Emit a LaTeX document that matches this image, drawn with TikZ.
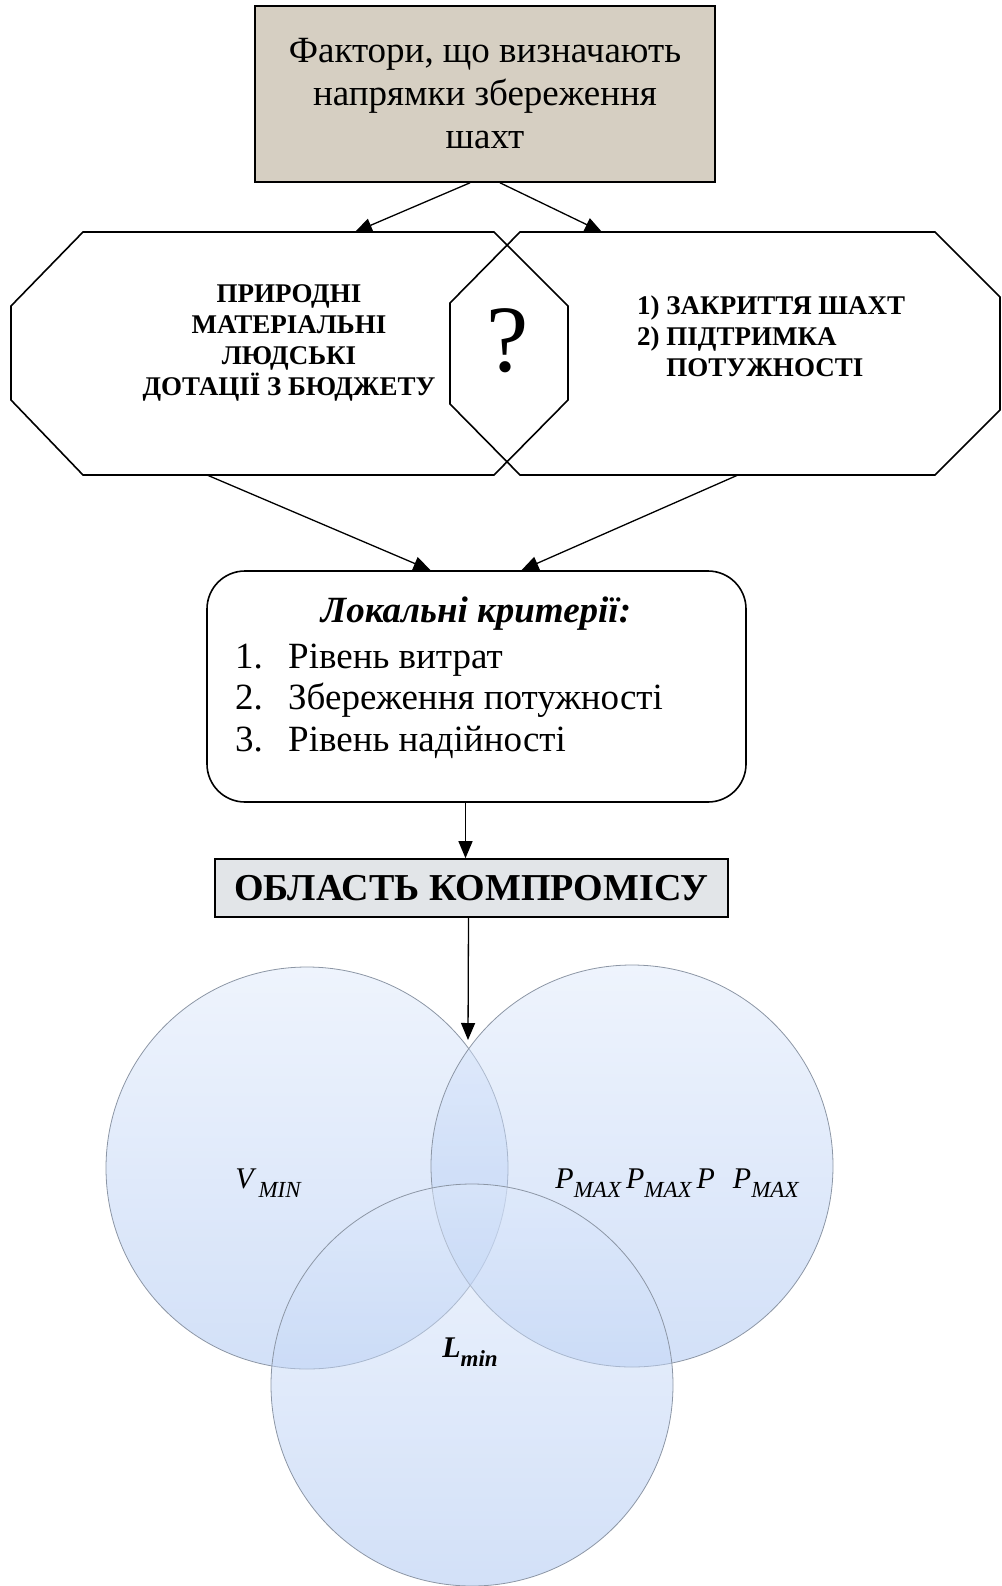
\documentclass[tikz,border=0pt]{standalone}
\usepackage{fontspec}
\setmainfont{Liberation Serif}
\usetikzlibrary{arrows.meta}
\definecolor{paper}{RGB}{214,207,194}
\definecolor{marble}{RGB}{226,229,232}
\definecolor{ctop}{RGB}{222,233,251}
\definecolor{cbot}{RGB}{166,194,241}
\definecolor{cline}{RGB}{140,150,165}
\begin{document}
\begin{tikzpicture}[x=1pt,y=-1pt,
  arr/.style={-{Triangle[length=17pt,width=14pt]}, line width=1.3pt},
  oct/.style={draw, line width=1.6pt},
  boxline/.style={draw, line width=1.6pt},
  octtext/.style={font=\bfseries\fontsize{27}{31}\selectfont, inner sep=0pt},
  itemtext/.style={font=\fontsize{37}{41}\selectfont, inner sep=0pt, anchor=mid west},
  venn/.style={circle, draw=cline, line width=0.8pt, top color=ctop, bottom color=cbot, fill opacity=0.5, minimum size=402pt, inner sep=0pt},
  lbl/.style={font=\itshape\fontsize{30}{30}\selectfont, inner sep=0pt}]
\useasboundingbox (0,0) rectangle (1001,1586);

% top box
\node[boxline, fill=paper, minimum width=460pt, minimum height=176pt, inner sep=0pt, align=center,
      font=\fontsize{37}{43}\selectfont] (top) at (485,94) {Фактори, що визначають\\напрямки збереження\\шахт};

% octagons
\draw[oct] (83,232) -- (494,232) -- (568,306) -- (568,400) -- (494,475) -- (83,475) -- (11,400) -- (11,306) -- cycle;
\draw[oct] (520,232) -- (935,232) -- (1000,297) -- (1000,410) -- (935,475) -- (520,475) -- (450,404) -- (450,303) -- cycle;
\coordinate (octLn) at (355,232);
\coordinate (octRn) at (602,232);
\coordinate (octLs) at (207,475);
\coordinate (octRs) at (738,475);

\node[octtext, align=center] (octLtxt) at (289,343) {ПРИРОДНІ\\МАТЕРІАЛЬНІ\\ЛЮДСЬКІ\\ДОТАЦІЇ З БЮДЖЕТУ};
\node[octtext, align=left, anchor=west] (octRtxt) at (637,336) {1) ЗАКРИТТЯ ШАХТ\\2) ПІДТРИМКА\\\hphantom{2) }ПОТУЖНОСТІ};
\node[font=\fontsize{95}{95}\selectfont, inner sep=0pt] (q) at (508,341) {?};

% local criteria box
\node[boxline, rounded corners=38pt, minimum width=539pt, minimum height=231pt] (local) at (476.5,686.5) {};
\node[font=\bfseries\itshape\fontsize{37}{40}\selectfont, inner sep=0pt] (ltitle) at (476,614) {Локальні критерії:};
\node[itemtext] (n1) at (235,666) {1.};
\node[itemtext] (t1) at (288,666) {Рівень витрат};
\node[itemtext] (n2) at (235,707) {2.};
\node[itemtext] (t2) at (288,707) {Збереження потужності};
\node[itemtext] (n3) at (235,749) {3.};
\node[itemtext] (t3) at (288,749) {Рівень надійності};

% compromise box
\node[boxline, fill=marble, minimum width=513pt, minimum height=58pt, inner sep=0pt,
      font=\bfseries\fontsize{38}{40}\selectfont] (comp) at (471.5,888) {ОБЛАСТЬ КОМПРОМІСУ};

% circles
\node[venn] (cL) at (307,1168) {};
\node[venn] (cR) at (632,1166) {};
\node[venn] (cB) at (472,1385) {};
\coordinate (meet) at (468,1040);

\node[lbl] (vmin) at (268,1183) {V\,\raisebox{-0.3em}{\fontsize{23}{23}\selectfont MIN}};
\node[lbl] (pmax) at (677,1183) {P\raisebox{-0.3em}{\fontsize{23}{23}\selectfont MAX}\,P\raisebox{-0.3em}{\fontsize{23}{23}\selectfont MAX}\,P\hspace{18pt}P\raisebox{-0.3em}{\fontsize{23}{23}\selectfont MAX}};
\node[lbl, font=\bfseries\itshape\fontsize{30}{30}\selectfont] (lmin) at (470,1352) {L\raisebox{-0.3em}{\fontsize{23}{23}\selectfont min}};

% connectors
\draw[arr] ([xshift=-15pt]top.south) -- (octLn);
\draw[arr] ([xshift=15pt]top.south) -- (octRn);
\draw[arr] (octLs) -- ([xshift=-46pt]local.north);
\draw[arr] (octRs) -- ([xshift=45pt]local.north);
\draw[arr] ([xshift=-11pt]local.south) -- ([xshift=-6pt]comp.north);
\draw[arr] ([xshift=-3pt]comp.south) -- (meet);
\end{tikzpicture}
\end{document}
